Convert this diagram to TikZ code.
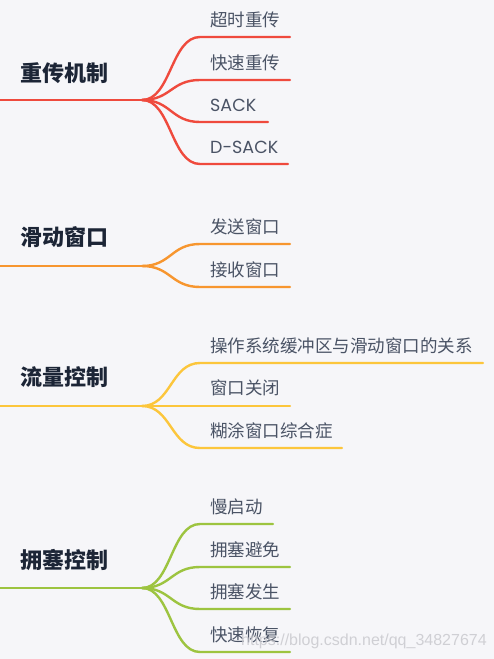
\documentclass[tikz,border=0pt]{standalone}
\usepackage{fontspec}
\setmainfont{Noto Sans CJK SC}
\newfontfamily\latinfont{Poppins}
\newfontfamily\wmfont{Liberation Sans}
\definecolor{bgc}{HTML}{F6F6F9}
\definecolor{redc}{HTML}{EF4A3D}
\definecolor{orangec}{HTML}{F7962F}
\definecolor{yellowc}{HTML}{FCC63C}
\definecolor{greenc}{HTML}{9DC440}
\definecolor{titlec}{HTML}{1C2536}
\definecolor{leafc}{HTML}{4A5365}
\definecolor{wmc}{HTML}{C9C9CE}
\newcommand{\fan}[4]{% color, from, to, end
  \draw[edge,#1] (#2) .. controls ([xshift=29pt]#2) and ([xshift=-29pt]#3) .. (#3) -- (#4);}
\begin{document}
\begin{tikzpicture}[x=1pt,y=-1pt,
  title/.style={anchor=west,inner sep=0pt,text=titlec,font=\fontsize{22}{24}\selectfont\bfseries},
  leaf/.style={anchor=west,inner sep=0pt,text=leafc,font=\fontsize{17.5}{19}\selectfont},
  edge/.style={line width=2.4pt,line cap=round}]
\fill[bgc] (0,0) rectangle (494,659);
\useasboundingbox (0,0) rectangle (494,659);

% ---------- group 1 : red ----------
\node[title] (t1) at (20,73) {重传机制};
\coordinate (r1s) at (-2,100);
\coordinate (r1f) at (142,100);
\draw[edge,redc] (r1s) -- (r1f);
\coordinate (b11s) at (200,37);  \coordinate (b11e) at (290,37);
\coordinate (b12s) at (200,80);  \coordinate (b12e) at (290,80);
\coordinate (b13s) at (200,122); \coordinate (b13e) at (268,122);
\coordinate (b14s) at (200,164); \coordinate (b14e) at (288,164);
\fan{redc}{r1f}{b11s}{b11e}
\fan{redc}{r1f}{b12s}{b12e}
\fan{redc}{r1f}{b13s}{b13e}
\fan{redc}{r1f}{b14s}{b14e}
\node[leaf] (l11) at (210,20) {超时重传};
\node[leaf] (l12) at (210,63) {快速重传};
\node[leaf] (l13) at (210,105) {\latinfont SACK};
\node[leaf] (l14) at (210,147) {\latinfont D-SACK};

% ---------- group 2 : orange ----------
\node[title] (t2) at (20,237) {滑动窗口};
\coordinate (r2s) at (-2,266);
\coordinate (r2f) at (142,266);
\draw[edge,orangec] (r2s) -- (r2f);
\coordinate (b21s) at (200,244); \coordinate (b21e) at (290,244);
\coordinate (b22s) at (200,287); \coordinate (b22e) at (290,287);
\fan{orangec}{r2f}{b21s}{b21e}
\fan{orangec}{r2f}{b22s}{b22e}
\node[leaf] (l21) at (210,227) {发送窗口};
\node[leaf] (l22) at (210,270) {接收窗口};

% ---------- group 3 : yellow ----------
\node[title] (t3) at (20,377) {流量控制};
\coordinate (r3s) at (-2,406);
\coordinate (r3f) at (142,406);
\draw[edge,yellowc] (r3s) -- (r3f);
\coordinate (b31s) at (200,363); \coordinate (b31e) at (483,363);
\coordinate (b32s) at (200,406); \coordinate (b32e) at (290,406);
\coordinate (b33s) at (200,448); \coordinate (b33e) at (342,448);
\fan{yellowc}{r3f}{b31s}{b31e}
\fan{yellowc}{r3f}{b32s}{b32e}
\fan{yellowc}{r3f}{b33s}{b33e}
\node[leaf] (l31) at (210,346) {操作系统缓冲区与滑动窗口的关系};
\node[leaf] (l32) at (210,388) {窗口关闭};
\node[leaf] (l33) at (210,431) {糊涂窗口综合症};

% ---------- group 4 : green ----------
\node[title] (t4) at (20,560) {拥塞控制};
\coordinate (r4s) at (-2,588);
\coordinate (r4f) at (142,588);
\draw[edge,greenc] (r4s) -- (r4f);
\coordinate (b41s) at (200,524); \coordinate (b41e) at (273,524);
\coordinate (b42s) at (200,567); \coordinate (b42e) at (290,567);
\coordinate (b43s) at (200,609); \coordinate (b43e) at (290,609);
\coordinate (b44s) at (200,652); \coordinate (b44e) at (290,652);
\fan{greenc}{r4f}{b41s}{b41e}
\fan{greenc}{r4f}{b42s}{b42e}
\fan{greenc}{r4f}{b43s}{b43e}
\fan{greenc}{r4f}{b44s}{b44e}
\node[leaf] (l41) at (210,507) {慢启动};
\node[leaf] (l42) at (210,550) {拥塞避免};
\node[leaf] (l43) at (210,592) {拥塞发生};
\node[leaf] (l44) at (210,635) {快速恢复};

% ---------- watermark ----------
\node[anchor=west,inner sep=0pt,text=wmc,text opacity=0.85,font=\wmfont\fontsize{16}{18}\selectfont] (wm) at (241,641) {https://blog.csdn.net/qq\_34827674};
\end{tikzpicture}
\end{document}
